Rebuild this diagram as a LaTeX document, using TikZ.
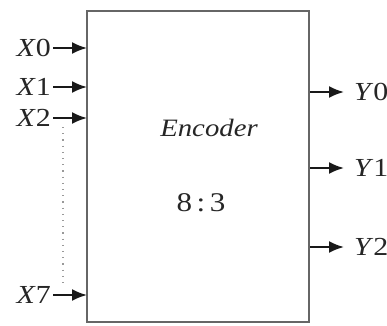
\documentclass[tikz,border=0pt]{standalone}
\usepackage{fontspec}
\setmainfont[FakeStretch=1.15]{Liberation Serif}
\usetikzlibrary{arrows.meta}
\begin{document}
\begin{tikzpicture}[x=1pt,y=-1pt,
  sig/.style={draw=black!90,line width=2pt,-{Latex[length=15pt,width=12pt]}},
  lbl/.style={inner sep=0pt,text=black!85,font=\fontsize{26}{28}\selectfont},
  blk/.style={draw=black!60,line width=1.4pt}]
\useasboundingbox (0,0) rectangle (387,325);
% encoder block
\draw[blk] (87,11) rectangle (309,322);
\node[lbl,font=\fontsize{25}{27}\selectfont\itshape] (enc) at (209,128) {Encoder};
\node[lbl,font=\fontsize{27}{29}\selectfont] (ratio) at (201,203) {8\,:\,3};
% inputs
\foreach \n/\y in {0/48,1/87,2/118,7/295}{
  \node[lbl,anchor=east] (x\n) at (51,\y) {\textit{X}\n};
  \coordinate (xi\n) at (87,\y);
  \draw[sig] (x\n.east) ++(2,0) -- (xi\n);
}
% dots between X2 and X7
\coordinate (d1) at (63,127);
\coordinate (d2) at (63,284);
\draw[black!40,line width=1.2pt,dash pattern=on 1.2pt off 5pt] (d1) -- (d2);
% outputs
\foreach \n/\y in {0/92,1/168,2/247}{
  \coordinate (yo\n) at (310,\y);
  \node[lbl,anchor=west] (y\n) at (354,\y) {\textit{Y}\n};
  \draw[sig] (yo\n) -- ([xshift=-10pt]y\n.west);
}
\end{tikzpicture}
\end{document}
